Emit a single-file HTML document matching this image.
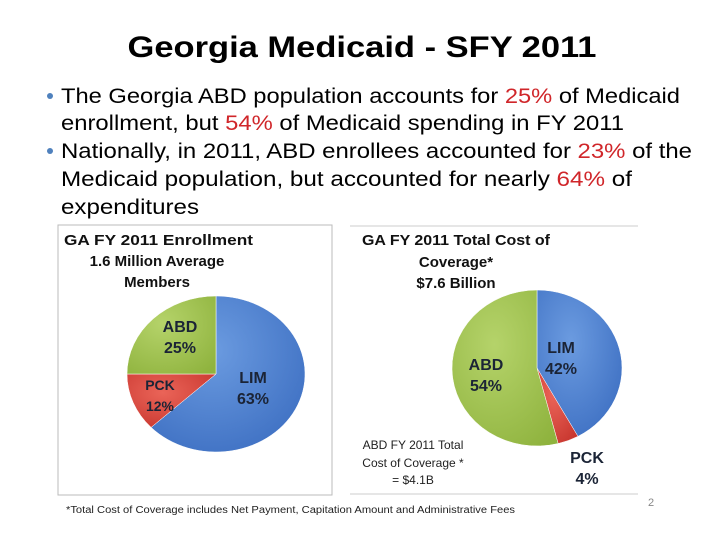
<!DOCTYPE html>
<html><head><meta charset="utf-8"><style>
body{margin:0;background:#fff;}
svg{display:block;font-family:"Liberation Sans",sans-serif;}
</style></head><body>
<svg width="720" height="540" viewBox="0 0 720 540">
<defs>
<radialGradient id="gb" cx="0.4" cy="0.35" r="0.8"><stop offset="0" stop-color="#6b9be0"/><stop offset="1" stop-color="#3a6cc0"/></radialGradient>
<radialGradient id="gg" cx="0.4" cy="0.35" r="0.8"><stop offset="0" stop-color="#b5d36a"/><stop offset="1" stop-color="#8fb33e"/></radialGradient>
<radialGradient id="gr" cx="0.4" cy="0.35" r="0.8"><stop offset="0" stop-color="#ea6458"/><stop offset="1" stop-color="#c6332c"/></radialGradient>
</defs>
<text x="362" y="57" text-anchor="middle" font-size="30" font-weight="bold" textLength="469" lengthAdjust="spacingAndGlyphs">Georgia Medicaid - SFY 2011</text>
<g font-size="21">
<circle cx="50" cy="96" r="3" fill="#4f81bd"/>
<text x="61" y="103" textLength="619" lengthAdjust="spacingAndGlyphs">The Georgia ABD population accounts for <tspan fill="#d0262a">25%</tspan> of Medicaid</text>
<text x="61" y="130" textLength="563" lengthAdjust="spacingAndGlyphs">enrollment, but <tspan fill="#d0262a">54%</tspan> of Medicaid spending in FY 2011</text>
<circle cx="50" cy="151" r="3" fill="#4f81bd"/>
<text x="61" y="158" textLength="631" lengthAdjust="spacingAndGlyphs">Nationally, in 2011, ABD enrollees accounted for <tspan fill="#d0262a">23%</tspan> of the</text>
<text x="61" y="186" textLength="571" lengthAdjust="spacingAndGlyphs">Medicaid population, but accounted for nearly <tspan fill="#d0262a">64%</tspan> of</text>
<text x="61" y="214" textLength="138" lengthAdjust="spacingAndGlyphs">expenditures</text>
</g>
<rect x="58" y="225" width="274" height="270" fill="none" stroke="#bbb"/>
<line x1="350" y1="226" x2="638" y2="226" stroke="#ccc"/>
<line x1="350" y1="494" x2="638" y2="494" stroke="#ccc"/>
<g font-weight="bold" font-size="15" fill="#111">
<text x="64" y="245" textLength="189" lengthAdjust="spacingAndGlyphs">GA FY 2011 Enrollment</text>
<text x="157" y="266" text-anchor="middle">1.6  Million Average</text>
<text x="157" y="287" text-anchor="middle">Members</text>
<text x="362" y="245" textLength="188" lengthAdjust="spacingAndGlyphs">GA FY 2011 Total Cost of</text>
<text x="456" y="267" text-anchor="middle">Coverage*</text>
<text x="456" y="288" text-anchor="middle">$7.6 Billion</text>
</g>
<g id="pies"></g>
<g font-size="12" fill="#222" text-anchor="middle">
<text x="413" y="449">ABD FY 2011 Total</text>
<text x="413" y="467">Cost of Coverage *</text>
<text x="413" y="484">= $4.1B</text>
</g>
<text x="66" y="513" font-size="10" fill="#222" textLength="449" lengthAdjust="spacingAndGlyphs">*Total Cost of Coverage includes Net Payment, Capitation Amount and Administrative Fees</text>
<text x="648" y="506" font-size="11" fill="#888">2</text>
</svg>
<script>
const enrollCategories = ["LIM", "PCK", "ABD"];
const enrollValues = [63, 12, 25];
const costCategories = ["LIM", "PCK", "ABD"];
const costValues = [42, 4, 54];
const fills = {LIM:"url(#gb)", PCK:"url(#gr)", ABD:"url(#gg)"};
const NS = "http://www.w3.org/2000/svg";
const g = document.getElementById('pies');
function pie(cats, vals, cx, cy, rx, ry, labels, prefix){
  const total = vals.reduce((a,b)=>a+b,0);
  let acc = 0;
  cats.forEach((c,i)=>{
    const a0 = acc/total*2*Math.PI; acc += vals[i]; const a1 = acc/total*2*Math.PI;
    const x0 = cx+rx*Math.sin(a0), y0 = cy-ry*Math.cos(a0);
    const x1 = cx+rx*Math.sin(a1), y1 = cy-ry*Math.cos(a1);
    const p = document.createElementNS(NS,'path');
    p.setAttribute('d',`M${cx},${cy}L${x0},${y0}A${rx},${ry} 0 ${a1-a0>Math.PI?1:0} 1 ${x1},${y1}Z`);
    p.setAttribute('fill',fills[c]);
    p.setAttribute('stroke','#fff');
    p.setAttribute('stroke-width','0.5');
    
    
    g.appendChild(p);
    const L = labels[i];
    [c, vals[i]+'%'].forEach((s,k)=>{
      const t = document.createElementNS(NS,'text');
      t.setAttribute('x',L[0]); t.setAttribute('y',L[1]+k*21);
      t.setAttribute('text-anchor','middle');
      t.setAttribute('font-weight','bold');
      t.setAttribute('font-size', L[2]||16);
      t.setAttribute('fill','#1b2436');
      
      
      t.textContent = s;
      g.appendChild(t);
    });
  });
}
pie(enrollCategories, enrollValues, 216, 374, 89, 78, [[253,383],[160,390,14],[180,332]], 'enrollment');
pie(costCategories, costValues, 537, 368, 85, 78, [[561,353],[587,463,16],[486,370]], 'cost');
</script>
</body></html>
